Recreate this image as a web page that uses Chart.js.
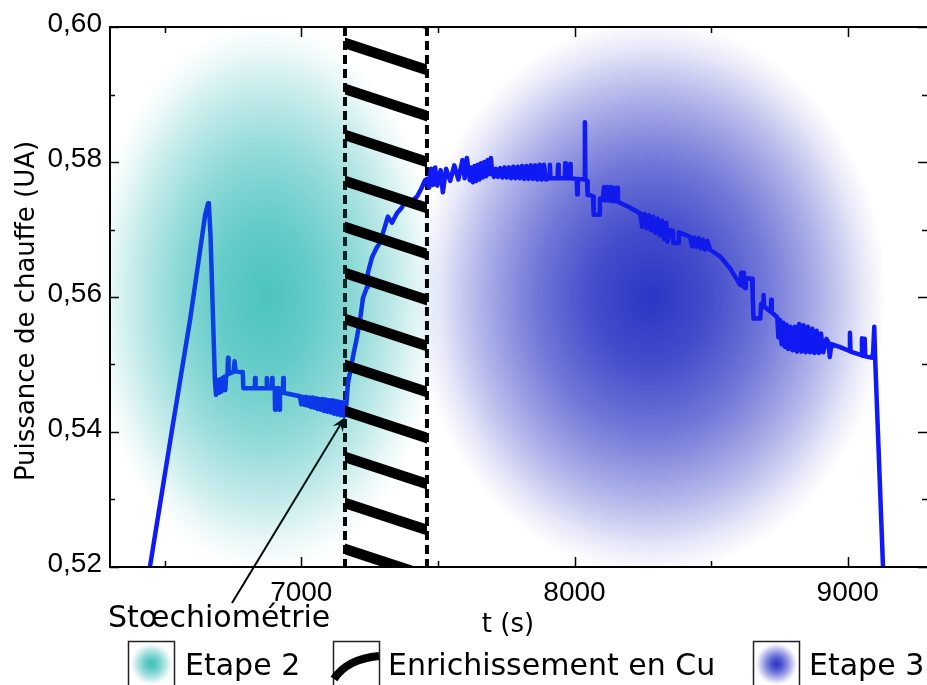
<!DOCTYPE html>
<html>
<head>
<meta charset="utf-8">
<script src="https://cdn.jsdelivr.net/npm/chart.js@4.4.1/dist/chart.umd.min.js"></script>
<style>
  html, body { margin: 0; padding: 0; background: #fff; }
  #wrap { width: 927px; height: 685px; }
</style>
</head>
<body>
<div id="wrap"><canvas id="c" width="927" height="685"></canvas></div>
<script>
// ---------------- DATA ----------------
// Puissance de chauffe (UA) vs t (s), as [t, P] pairs
const seg2Rise = [
  [6440,0.5190],[6446,0.5200],[6527,0.5403],[6593,0.5566],[6629,0.5667],[6648,0.5721],
  [6659,0.5739],[6662,0.5735],[6668,0.5690],[6684,0.5477],[6688,0.5455]
];
const seg2Plateau = [
  [6692,0.5477],[6698,0.5475],[6700,0.5458],[6703,0.5478],[6708,0.5460],[6712,0.5480],
  [6720,0.5482],[6722,0.5462],[6725,0.5483],[6730,0.5485],[6732,0.5510],[6734,0.5486],
  [6740,0.5487],[6752,0.5489],[6756,0.5505],[6760,0.5490],[6776,0.5489],[6786,0.5489],
  [6788,0.5465],[6830,0.5465],[6831,0.5480],[6833,0.5465],[6873,0.5465],[6874,0.5480],
  [6876,0.5465],[6892,0.5465],[6893,0.5480],[6895,0.5465],[6903,0.5465],[6904,0.5433],
  [6906,0.5465],[6918,0.5465],[6920,0.5433],[6922,0.5462],[6933,0.5460],[6934,0.5480],
  [6936,0.5458],[6960,0.5456],[6995,0.5453],[7000,0.5441],[7006,0.5452],[7012,0.5440],
  [7018,0.5452],[7024,0.5439],[7030,0.5451],[7036,0.5437],[7042,0.5451],[7048,0.5436],
  [7054,0.5450],[7060,0.5434],[7066,0.5449],[7072,0.5433],[7078,0.5449],[7084,0.5431],
  [7090,0.5448],[7096,0.5430],[7102,0.5447],[7108,0.5429],[7114,0.5447],[7120,0.5427],
  [7126,0.5446],[7132,0.5426],[7138,0.5445],[7144,0.5425],[7150,0.5444],[7156,0.5424],
  [7162,0.5425]
];
const segEnrich = [
  [7166,0.5447],[7171,0.5473],[7178,0.5487],[7189,0.5511],[7204,0.5541],[7215,0.5566],
  [7226,0.5599],[7241,0.5615],[7244,0.5636],[7259,0.5659],[7277,0.5674],[7288,0.5680],
  [7299,0.5695],[7317,0.5719],[7332,0.5710],[7350,0.5724],[7369,0.5733],[7380,0.5744],
  [7398,0.5739],[7424,0.5749],[7442,0.5763],[7453,0.5773]
];
const seg3Plateau = [
  [7460,0.5775],[7468,0.5762],[7475,0.5790],[7482,0.5766],[7490,0.5792],[7498,0.5765],
  [7510,0.5788],[7518,0.5755],[7530,0.5790],[7545,0.5772],[7560,0.5795],[7575,0.5774],
  [7590,0.5803],[7598,0.5776],[7606,0.5806],[7617,0.5773],[7622,0.5792],[7628,0.5770],
  [7634,0.5794],[7640,0.5772],[7646,0.5796],[7652,0.5774],[7658,0.5798],[7664,0.5777],
  [7670,0.5800],[7676,0.5779],[7682,0.5803],[7688,0.5782],[7694,0.5806],[7698,0.5788],
  [7705,0.5778],[7712,0.5790],[7720,0.5778],[7728,0.5791],[7736,0.5777],[7744,0.5792],
  [7752,0.5777],[7760,0.5792],[7768,0.5776],[7776,0.5793],[7784,0.5776],[7792,0.5793],
  [7800,0.5776],[7808,0.5794],[7816,0.5775],[7824,0.5794],[7832,0.5775],[7840,0.5795],
  [7848,0.5775],[7856,0.5795],[7864,0.5774],[7872,0.5796],[7880,0.5774],[7888,0.5796],
  [7896,0.5774],[7908,0.5776],[7910,0.5796],[7912,0.5776],[7938,0.5776],[7940,0.5796],
  [7942,0.5776],[7964,0.5776],[7966,0.5798],[7968,0.5776],[7982,0.5776],[7984,0.5797],
  [7986,0.5776],[8008,0.5775],[8010,0.5752],[8012,0.5775],[8036,0.5774],[8038,0.5859],
  [8040,0.5774],[8046,0.5772],[8048,0.5751],[8058,0.5751],[8062,0.5750],[8068,0.5749],
  [8070,0.5722],[8090,0.5722],[8093,0.5746],[8104,0.5744],[8108,0.5763],[8114,0.5743],
  [8120,0.5763],[8126,0.5743],[8132,0.5763],[8138,0.5742],[8144,0.5762],[8150,0.5742],
  [8156,0.5762],[8159,0.5741]
];
const seg3Decline = [
  [8200,0.5733],[8240,0.5724],[8248,0.5704],[8256,0.5723],[8264,0.5702],[8272,0.5721],
  [8280,0.5699],[8288,0.5719],[8296,0.5695],[8304,0.5716],[8312,0.5691],[8320,0.5713],
  [8328,0.5686],[8336,0.5710],[8340,0.5682],[8350,0.5699],[8360,0.5698],[8362,0.5680],
  [8380,0.5680],[8382,0.5696],[8423,0.5689],[8430,0.5675],[8438,0.5688],[8446,0.5674],
  [8454,0.5687],[8462,0.5672],[8470,0.5685],[8478,0.5670],[8486,0.5683],[8496,0.5670],
  [8533,0.5660],[8570,0.5642],[8606,0.5618],[8610,0.5636],[8613,0.5617],[8617,0.5636],
  [8620,0.5615],[8625,0.5613],[8627,0.5628],[8650,0.5627],[8652,0.5604],[8655,0.5568],
  [8680,0.5568],[8683,0.5590],[8690,0.5587],[8692,0.5603],[8694,0.5586],[8718,0.5578],
  [8720,0.5596],[8722,0.5577],[8742,0.5570],[8746,0.5540],[8752,0.5566],[8758,0.5530],
  [8764,0.5562],[8770,0.5526],[8776,0.5559],[8782,0.5523],[8790,0.5556],[8798,0.5521],
  [8806,0.5556],[8814,0.5519],[8822,0.5560],[8830,0.5519],[8838,0.5558],[8846,0.5518],
  [8854,0.5556],[8862,0.5518],[8870,0.5553],[8878,0.5517],[8886,0.5550],[8894,0.5517],
  [8902,0.5546],[8910,0.5518],[8922,0.5538],[8930,0.5532],[8934,0.5511],[8940,0.5530],
  [8970,0.5526],[9006,0.5520],[9008,0.5547],[9010,0.5519],[9050,0.5514],[9052,0.5539],
  [9054,0.5513],[9060,0.5513],[9062,0.5538],[9064,0.5512],[9090,0.5510],[9093,0.5520],
  [9097,0.5556],[9100,0.5512],[9129,0.5200],[9131,0.5190]
];

// axes
const xRange = [6300, 9290];
const yRange = [0.52, 0.60];
const xMajorTicks = [7000, 8000, 9000];
const xMinorTicks = [6500, 7500, 8500];
const yMajorTicks = [0.52, 0.54, 0.56, 0.58, 0.60];
const yMinorTicks = [0.53, 0.55, 0.57, 0.59];
const xTitle = 't (s)';
const yTitle = 'Puissance de chauffe (UA)';

// annotations (data coordinates)
const enrichBand = [7160, 7460];                 // Enrichissement en Cu
const stoichPoint = [7160, 0.5422];              // Stœchiométrie
const stoichLabel = 'Stœchiométrie';
const stage2Center = [6870, 0.56];
const stage2Radius = [640, 0.0405];
const stage3Center = [8280, 0.56];
const stage3Radius = [860, 0.0410];
const legendLabels = ['Etape 2', 'Enrichissement en Cu', 'Etape 3'];

// ---------------- STYLE ----------------
const LINE_COLOR = 'rgb(15,25,250)';
const TEAL = [0, 170, 165];
const BLUE = [20, 30, 190];
const SANS = '"DejaVu Sans", sans-serif';
const TICKFONT = '"Liberation Sans", Arial, sans-serif';

const seriesPoints = [].concat(seg2Rise, seg2Plateau, segEnrich, seg3Plateau, seg3Decline)
  .map(([x, y]) => ({ x, y }));

function blobGradient(ctx, rgb) {
  const g = ctx.createRadialGradient(0, 0, 0, 0, 0, 1);
  const [R, G, B] = rgb;
  g.addColorStop(0, `rgba(${R},${G},${B},1)`);
  g.addColorStop(0.25, `rgba(${R},${G},${B},0.84)`);
  g.addColorStop(0.5, `rgba(${R},${G},${B},0.58)`);
  g.addColorStop(0.75, `rgba(${R},${G},${B},0.28)`);
  g.addColorStop(0.9, `rgba(${R},${G},${B},0.09)`);
  g.addColorStop(1, `rgba(${R},${G},${B},0)`);
  return g;
}

function drawBlob(chart, center, radius, rgb, alpha) {
  const { ctx, chartArea: a, scales: { x, y } } = chart;
  const cx = x.getPixelForValue(center[0]);
  const cy = y.getPixelForValue(center[1]);
  const rx = Math.abs(x.getPixelForValue(center[0] + radius[0]) - cx);
  const ry = Math.abs(y.getPixelForValue(center[1] + radius[1]) - cy);
  ctx.save();
  ctx.beginPath();
  ctx.rect(a.left, a.top, a.right - a.left, a.bottom - a.top);
  ctx.clip();
  ctx.translate(cx, cy);
  ctx.scale(rx, ry);
  ctx.globalAlpha = alpha;
  ctx.fillStyle = blobGradient(ctx, rgb);
  ctx.beginPath();
  ctx.arc(0, 0, 1, 0, Math.PI * 2);
  ctx.fill();
  ctx.restore();
}

const decorPlugin = {
  id: 'decor',
  beforeDatasetsDraw(chart) {
    const { ctx, chartArea: a, scales: { x, y } } = chart;
    drawBlob(chart, stage2Center, stage2Radius, TEAL, 0.54);
    drawBlob(chart, stage3Center, stage3Radius, BLUE, 0.84);
    // dashed band limits
    ctx.save();
    ctx.strokeStyle = '#000';
    ctx.lineWidth = 4;
    ctx.setLineDash([9, 5]);
    enrichBand.forEach(v => {
      const px = x.getPixelForValue(v);
      ctx.beginPath();
      ctx.moveTo(px, a.top);
      ctx.lineTo(px, a.bottom);
      ctx.stroke();
    });
    ctx.restore();
    // arrow
    const tx = x.getPixelForValue(stoichPoint[0]);
    const ty = y.getPixelForValue(stoichPoint[1]);
    const sx = 232, sy = 603;
    const ang = Math.atan2(ty - sy, tx - sx);
    ctx.save();
    ctx.strokeStyle = '#000';
    ctx.fillStyle = '#000';
    ctx.lineWidth = 2;
    ctx.beginPath();
    ctx.moveTo(sx, sy);
    ctx.lineTo(tx - 6 * Math.cos(ang), ty - 6 * Math.sin(ang));
    ctx.stroke();
    ctx.beginPath();
    const L = 14, W = 6;
    ctx.moveTo(tx, ty);
    ctx.lineTo(tx - L * Math.cos(ang) + W * Math.sin(ang), ty - L * Math.sin(ang) - W * Math.cos(ang));
    ctx.lineTo(tx - 9 * Math.cos(ang), ty - 9 * Math.sin(ang));
    ctx.lineTo(tx - L * Math.cos(ang) - W * Math.sin(ang), ty - L * Math.sin(ang) + W * Math.cos(ang));
    ctx.closePath();
    ctx.fill();
    ctx.restore();
  },
  afterDatasetsDraw(chart) {
    const { ctx, chartArea: a, scales: { x, y } } = chart;
    // translucent overlay of the stage zones (tints line)
    drawBlob(chart, stage2Center, stage2Radius, TEAL, 0.35);
    drawBlob(chart, stage3Center, stage3Radius, BLUE, 0.35);
    // hatch strokes
    const x0 = x.getPixelForValue(enrichBand[0]);
    const x1 = x.getPixelForValue(enrichBand[1]);
    ctx.save();
    ctx.beginPath();
    ctx.rect(x0, a.top, x1 - x0, a.bottom - a.top);
    ctx.clip();
    ctx.strokeStyle = '#000';
    ctx.lineWidth = 10.5;
    const drop = 27 / 82;
    for (let yy = a.top + 16 - 46; yy < a.bottom + 10; yy += 46) {
      ctx.beginPath();
      ctx.moveTo(x0 - 4, yy - 4 * drop);
      ctx.lineTo(x1 + 4, yy + (x1 - x0 + 4) * drop);
      ctx.stroke();
    }
    ctx.restore();
    // frame + inward ticks
    ctx.save();
    ctx.strokeStyle = '#000';
    ctx.lineWidth = 2;
    ctx.beginPath();
    ctx.moveTo(a.left, a.top); ctx.lineTo(a.right + 2, a.top);
    ctx.moveTo(a.left, a.top - 1); ctx.lineTo(a.left, a.bottom + 1);
    ctx.moveTo(a.left, a.bottom); ctx.lineTo(a.right + 2, a.bottom);
    ctx.moveTo(a.right + 1, a.top); ctx.lineTo(a.right + 1, a.bottom);
    ctx.stroke();
    ctx.lineWidth = 1.5;
    ctx.beginPath();
    const tick = (vals, len, horiz) => vals.forEach(v => {
      if (horiz) {
        const px = Math.round(x.getPixelForValue(v)) + 0.5;
        ctx.moveTo(px, a.bottom); ctx.lineTo(px, a.bottom - len);
        ctx.moveTo(px, a.top); ctx.lineTo(px, a.top + len);
      } else {
        const py = Math.round(y.getPixelForValue(v)) + 0.5;
        ctx.moveTo(a.left, py); ctx.lineTo(a.left + len, py);
        ctx.moveTo(a.right, py); ctx.lineTo(a.right - len, py);
      }
    });
    tick(xMajorTicks, 10, true);
    tick(xMinorTicks, 6, true);
    tick(yMajorTicks, 9, false);
    tick(yMinorTicks, 5, false);
    ctx.stroke();
    ctx.restore();
  },
  afterDraw(chart) {
    const { ctx } = chart;
    ctx.save();
    ctx.fillStyle = '#000';
    // y title
    ctx.save();
    ctx.translate(27, 311);
    ctx.rotate(-Math.PI / 2);
    ctx.font = '26px ' + SANS;
    ctx.textAlign = 'center';
    ctx.textBaseline = 'middle';
    ctx.fillText(yTitle, 0, 0);
    ctx.restore();
    // x title
    ctx.font = '26px ' + SANS;
    ctx.textAlign = 'center';
    ctx.textBaseline = 'alphabetic';
    ctx.fillText(xTitle, 508, 632);
    // stoichiometry label
    ctx.font = '30px ' + SANS;
    ctx.textAlign = 'left';
    ctx.fillText(stoichLabel, 108, 627);
    // legend
    const boxes = [128, 333, 753];
    const textX = [185, 388, 809];
    ctx.lineWidth = 1.5;
    ctx.strokeStyle = '#222';
    boxes.forEach((bx, i) => {
      ctx.strokeRect(bx + 0.5, 641.5, 46, 60);
      if (i === 1) {
        ctx.save();
        ctx.strokeStyle = '#000';
        ctx.lineWidth = 8;
        ctx.beginPath();
        ctx.moveTo(bx + 1, 679);
        ctx.quadraticCurveTo(bx + 14, 659, bx + 46, 656);
        ctx.stroke();
        ctx.restore();
      } else {
        const rgb = i === 0 ? TEAL : BLUE;
        ctx.save();
        ctx.translate(bx + 23.5, 664);
        ctx.scale(21, 21);
        ctx.globalAlpha = i === 0 ? 0.75 : 0.9;
        ctx.fillStyle = blobGradient(ctx, rgb);
        ctx.beginPath(); ctx.arc(0, 0, 1, 0, Math.PI * 2); ctx.fill();
        ctx.restore();
      }
      ctx.font = '30px ' + SANS;
      ctx.fillStyle = '#000';
      ctx.textAlign = 'left';
      ctx.fillText(legendLabels[i], textX[i], 675);
    });
    ctx.restore();
  }
};

const isIn = (arr, v) => arr.some(m => Math.abs(m - v) < 1e-9);

new Chart(document.getElementById('c'), {
  type: 'line',
  data: {
    datasets: [{
      data: seriesPoints,
      borderColor: LINE_COLOR,
      borderWidth: 4.5,
      pointRadius: 0,
      tension: 0,
      borderJoinStyle: 'round',
      borderCapStyle: 'round',
      fill: false
    }]
  },
  options: {
    responsive: false,
    devicePixelRatio: 1,
    animation: false,
    layout: { padding: { top: 27, left: 0, right: 0, bottom: 0 } },
    plugins: { legend: { display: false }, tooltip: { enabled: false } },
    scales: {
      x: {
        type: 'linear',
        min: xRange[0], max: xRange[1],
        grid: { display: false, drawTicks: false },
        border: { display: false },
        afterBuildTicks: s => { s.ticks = [...xMinorTicks, ...xMajorTicks].sort((a, b) => a - b).map(v => ({ value: v })); },
        afterFit: s => { s.height = 118; },
        ticks: {
          autoSkip: false, maxRotation: 0, padding: 9,
          color: '#000', font: { family: TICKFONT, size: 28 },
          callback: v => isIn(xMajorTicks, v) ? String(v) : ''
        }
      },
      y: {
        type: 'linear',
        min: yRange[0], max: yRange[1],
        grid: { display: false, drawTicks: false },
        border: { display: false },
        afterBuildTicks: s => { s.ticks = [...yMinorTicks, ...yMajorTicks].sort((a, b) => a - b).map(v => ({ value: v })); },
        afterFit: s => { s.width = 110; },
        ticks: {
          autoSkip: false, padding: 8, labelOffset: -3,
          color: '#000', font: { family: TICKFONT, size: 28 },
          callback: v => isIn(yMajorTicks, v) ? v.toFixed(2).replace('.', ',') : ''
        }
      }
    }
  },
  plugins: [decorPlugin]
});
</script>
</body>
</html>
